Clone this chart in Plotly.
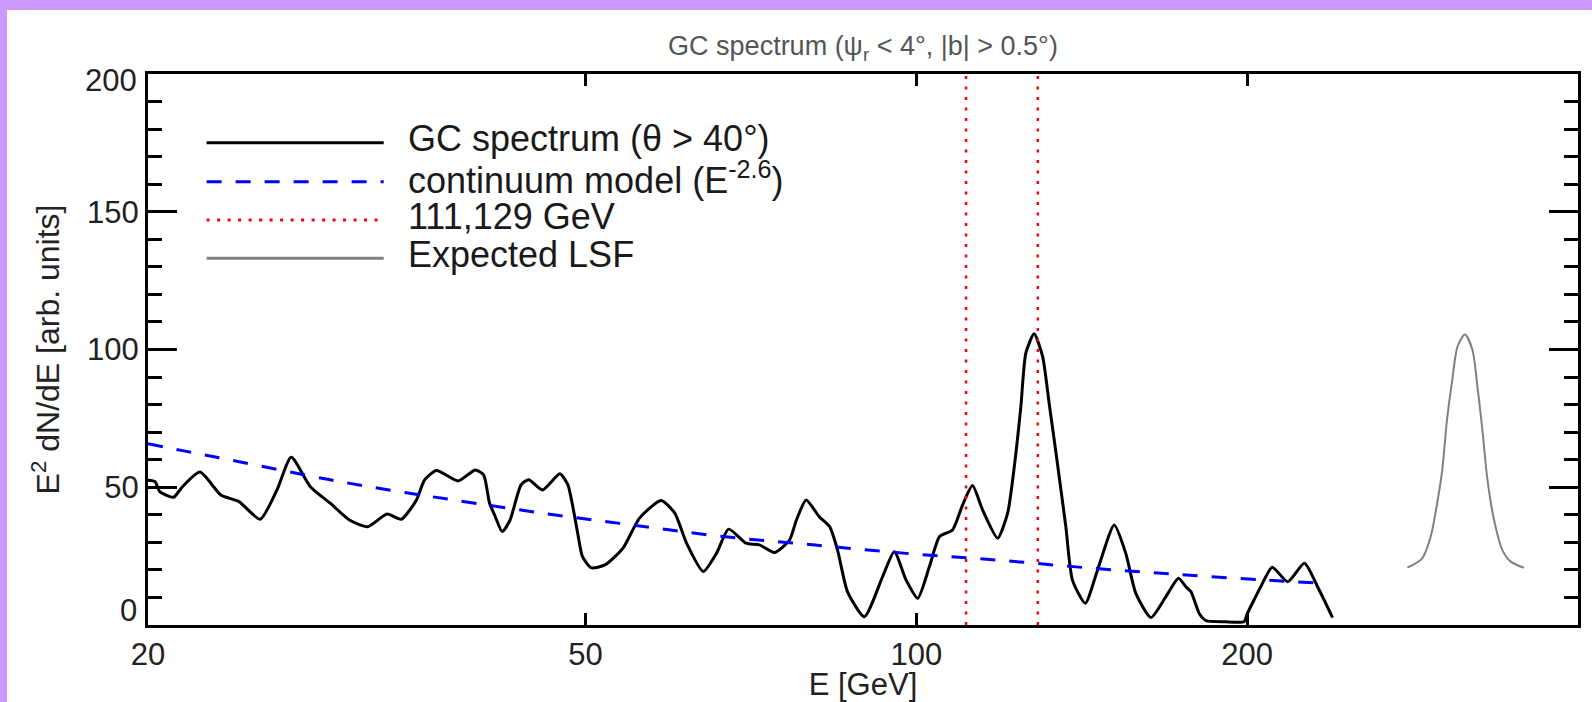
import math
import plotly.graph_objects as go

# ---------------- data ----------------
gc_energy = [20.0, 20.3, 20.5, 21.1, 21.5, 22.3, 23.3, 24.2, 25.3, 26.2, 27.0, 28.1,
             29.3, 30.5, 31.7, 33.0, 34.0, 35.1, 35.7, 36.6, 38.3, 39.7, 40.4, 40.9,
             41.4, 42.0, 42.7, 43.7, 44.4, 45.7, 47.4, 48.2, 48.7, 49.2, 49.7, 50.6,
             52.1, 54.1, 56.0, 58.6, 60.3, 61.8, 64.0, 65.8, 67.5, 70.0, 72.0, 74.3,
             76.7, 77.8, 79.4, 81.6, 83.4, 84.8, 86.6, 89.7, 93.2, 95.5, 97.9, 100.3,
             102.8, 105.0, 107.9, 110.2, 112.5, 114.9, 118.6, 121.1, 122.8, 124.5, 125.8,
             128.0, 130.3, 132.1, 134.4, 136.8, 138.7, 142.5, 146.2, 151.4, 155.1, 158.4,
             163.5, 168.7, 173.2, 175.9, 177.8, 180.9, 183.5, 191.0, 198.7, 200.1, 202.2,
             205.8, 210.8, 217.7, 225.5, 231.8, 239.2]
gc_flux = [52.5, 52.0, 48.4, 46.4, 50.2, 55.5, 47.2, 44.8, 38.4, 49.0, 60.9, 50.2,
           44.2, 38.1, 35.7, 40.3, 38.4, 45.4, 52.7, 56.1, 52.3, 56.3, 54.5, 44.3,
           39.3, 33.9, 38.1, 50.9, 52.7, 49.0, 54.9, 50.9, 43.0, 33.3, 24.8, 20.8,
           21.8, 27.9, 38.8, 45.2, 40.6, 29.7, 19.4, 26.0, 34.8, 29.7, 29.1, 26.3,
           30.9, 38.1, 45.4, 39.3, 35.7, 27.2, 12.0, 3.0, 17.6, 26.6, 16.3, 9.7,
           21.2, 32.1, 34.5, 43.6, 50.6, 41.8, 31.5, 40.6, 57.5, 79.3, 98.7,
           105.7, 97.5, 80.5, 58.7, 35.7, 16.3, 7.9, 20.0, 36.3, 26.0, 11.5,
           2.7, 10.3, 17.0, 13.9, 12.1, 4.2, 1.6, 1.2, 1.2, 4.2, 7.9,
           13.9, 21.0, 15.7, 22.4, 13.9, 2.7]

model_energy = [20.0, 21.5, 24.4, 29.3, 33.4, 37.9, 45.7, 55.2, 66.7, 80.5, 97.9,
                118.2, 142.7, 172.3, 208.0, 235.8]
model_flux = [65.8, 63.3, 59.0, 52.7, 48.8, 45.4, 40.6, 36.3, 32.1, 29.1, 26.0,
              23.6, 20.8, 18.4, 16.3, 15.1]

line_energies = [111, 129]
line_flux_span = [0, 200]

lsf_energy = [279.8, 288.6, 293.8, 297.8, 301.0, 304.0, 307.4, 310.8, 315.6, 320.6,
              324.0, 327.4, 330.9, 335.5, 341.4, 347.4, 357.2]
lsf_flux = [20.8, 24.2, 32.1, 44.2, 56.3, 74.5, 89.0, 101.1, 105.4, 99.9,
            86.6, 70.8, 52.7, 38.1, 27.2, 23.0, 20.8]

x_tick_vals = [20, 50, 100, 200]
x_tick_text = ["20", "50", "100", "200"]
y_tick_vals = [0, 50, 100, 150, 200]
y_tick_text = ["0", "50", "100", "150", "200"]
x_range = [20, 400]
y_range = [0, 200]

legend_labels = ["GC spectrum (θ &gt; 40°)",
                 "continuum model (E<sup>-2.6</sup>)",
                 "111,129 GeV",
                 "Expected LSF"]

title_text = "GC spectrum (ψ<sub>r</sub> &lt; 4°, |b| &gt; 0.5°)"
x_title = "E [GeV]"
y_title = "E<sup>2</sup> dN/dE [arb. units]"

# ---------------- styles ----------------
FONT = "Liberation Sans, Arial, Helvetica, sans-serif"
BLACK = "#000000"
BLUE = "#0000FF"
RED = "#FF0000"
GREY = "#808080"
PURPLE = "#CC99FF"
TXT = "#222222"
DASH_BLUE = "15px,14px"
DOT_RED = "3px,7.5px"

styles = [
    dict(color=BLACK, width=3, dash="solid"),
    dict(color=BLUE, width=3, dash=DASH_BLUE),
    dict(color=RED, width=3, dash=DOT_RED),
    dict(color=GREY, width=3, dash="solid"),
]

fig = go.Figure()

fig.add_trace(go.Scatter(x=gc_energy, y=gc_flux, mode="lines",
                         line=dict(color=BLACK, width=3, shape="spline", smoothing=0.6),
                         showlegend=False, hoverinfo="skip"))
fig.add_trace(go.Scatter(x=model_energy, y=model_flux, mode="lines",
                         line=dict(color=BLUE, width=3, dash=DASH_BLUE, shape="spline"),
                         showlegend=False, hoverinfo="skip"))
for e in line_energies:
    fig.add_trace(go.Scatter(x=[e, e], y=line_flux_span, mode="lines",
                             line=dict(color=RED, width=2.5, dash=DOT_RED),
                             showlegend=False, hoverinfo="skip"))
fig.add_trace(go.Scatter(x=lsf_energy, y=lsf_flux, mode="lines",
                         line=dict(color=GREY, width=2, shape="spline", smoothing=0.8),
                         showlegend=False, hoverinfo="skip"))

# ---------------- layout ----------------
L, R, T, B = 148, 14, 74, 77
W, H = 1592, 702
pw, ph = W - L - R, H - T - B

def px_x(px):
    return (px - L) / pw

def px_y(py):
    return (H - B - py) / ph

shapes = []
annotations = []
# purple frame bands (top and left)
shapes.append(dict(type="rect", xref="paper", yref="paper", x0=px_x(0), x1=px_x(W),
                   y0=px_y(10), y1=px_y(0), fillcolor=PURPLE, line=dict(width=0), layer="below"))
shapes.append(dict(type="rect", xref="paper", yref="paper", x0=px_x(0), x1=px_x(7),
                   y0=px_y(H), y1=px_y(0), fillcolor=PURPLE, line=dict(width=0), layer="below"))

# hand-made legend
row_py = [142.7, 181.7, 220.0, 258.3]
for label, st, py in zip(legend_labels, styles, row_py):
    shapes.append(dict(type="line", xref="paper", yref="paper",
                       x0=px_x(206.6), x1=px_x(383.7), y0=px_y(py), y1=px_y(py),
                       line=dict(color=st["color"], width=st["width"], dash=st["dash"])))
    annotations.append(dict(xref="paper", yref="paper", x=px_x(406), y=px_y(py - 4),
                            xanchor="left", yanchor="middle", showarrow=False,
                            text=label, font=dict(family=FONT, size=36, color="#1a1a1a")))

# end-of-axis y labels nudged inward (as in the reference)
shown_y_text = [t if v not in (y_range[0], y_range[1]) else "" for v, t in zip(y_tick_vals, y_tick_text)]
for v, t in zip(y_tick_vals, y_tick_text):
    if v == y_range[0]:
        shift = 15
    elif v == y_range[1]:
        shift = -6
    else:
        continue
    annotations.append(dict(xref="paper", yref="y", x=0, y=v, xanchor="right",
                            yanchor="middle", xshift=-9, yshift=shift, showarrow=False,
                            text=t, font=dict(family=FONT, size=31, color=TXT)))

axis_common = dict(showline=True, linecolor=BLACK, linewidth=3, mirror="ticks",
                   ticks="inside", tickcolor=BLACK, tickwidth=3, showgrid=False,
                   zeroline=False,
                   tickfont=dict(family=FONT, size=31, color=TXT))

fig.update_layout(
    width=W, height=H,
    margin=dict(l=L, r=R, t=T, b=B, autoexpand=False),
    paper_bgcolor="white", plot_bgcolor="white",
    title=dict(text=title_text, x=0.5 * (L + W - R) / W, xanchor="center",
               y=1 - 46 / H, yanchor="middle", yref="container",
               font=dict(family=FONT, size=27, color="#555555")),
    xaxis=dict(type="log", range=[math.log10(x_range[0]), math.log10(x_range[1])],
               tickvals=x_tick_vals, ticktext=x_tick_text, ticklen=12,
               ticklabelstandoff=0,
               title=dict(text=x_title, standoff=14,
                          font=dict(family=FONT, size=31, color=TXT)),
               **axis_common),
    yaxis=dict(range=y_range, tickvals=y_tick_vals, ticktext=shown_y_text, ticklen=29,
               ticklabelstandoff=0,
               minor=dict(dtick=10, ticklen=14, tickwidth=3, tickcolor=BLACK,
                          ticks="inside", showgrid=False),
               title=dict(text=y_title, standoff=18,
                          font=dict(family=FONT, size=32, color=TXT)),
               **axis_common),
    shapes=shapes,
    annotations=annotations,
    showlegend=False,
)

fig.write_html("out.html")
